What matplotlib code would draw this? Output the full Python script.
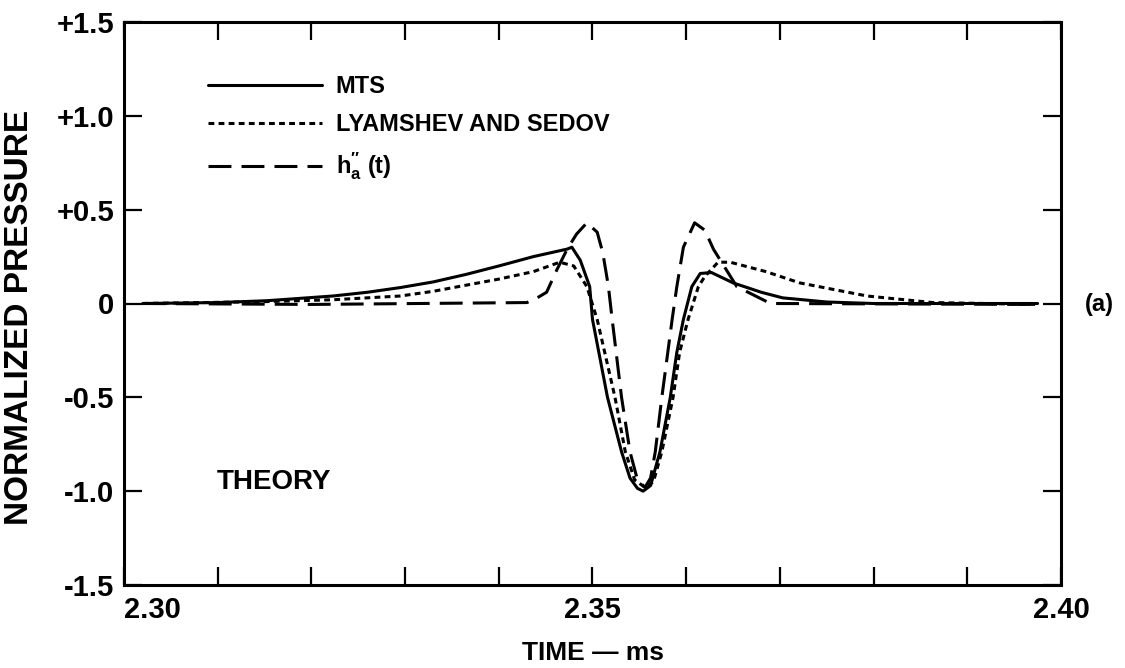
import matplotlib
matplotlib.use("Agg")
import matplotlib.pyplot as plt
from matplotlib.ticker import MultipleLocator

plt.rcParams['font.family'] = ['Liberation Sans', 'DejaVu Sans']
plt.rcParams['font.weight'] = 'bold'
plt.rcParams['mathtext.fontset'] = 'custom'
plt.rcParams['mathtext.rm'] = 'Liberation Sans:bold'
plt.rcParams['mathtext.bf'] = 'Liberation Sans:bold'
plt.rcParams['mathtext.it'] = 'Liberation Sans:bold'

# ---- data ----
mts_t = [2.302, 2.310, 2.3153, 2.3223, 2.3260, 2.3295, 2.333, 2.3365, 2.340, 2.3437, 2.3473, 2.3478,
         2.3487, 2.3497, 2.3500, 2.3516, 2.3531, 2.3540, 2.3548, 2.3554, 2.3562, 2.3572,
         2.3583, 2.3590, 2.3597, 2.3606, 2.3615, 2.3627, 2.3650, 2.3680, 2.3703, 2.3750,
         2.3800, 2.3975]
mts_v = [0.0, 0.005, 0.015, 0.04, 0.06, 0.085, 0.115, 0.155, 0.20, 0.25, 0.29, 0.30,
         0.23, 0.09, -0.085, -0.50, -0.79, -0.93, -0.985, -1.0, -0.97, -0.79,
         -0.50, -0.26, -0.085, 0.09, 0.16, 0.165, 0.11, 0.06, 0.03, 0.008,
         0.0, 0.0]

lyam_t = [2.302, 2.315, 2.3223, 2.3295, 2.333, 2.340, 2.3437, 2.3465, 2.3480, 2.3494,
          2.3505, 2.3524, 2.3535, 2.3545, 2.3556, 2.3565, 2.3574, 2.3586, 2.3593, 2.3602,
          2.3613, 2.3620, 2.3634, 2.3647, 2.3685, 2.3721, 2.3793, 2.3863, 2.3975]
lyam_v = [0.0, 0.01, 0.02, 0.04, 0.065, 0.13, 0.17, 0.22, 0.20, 0.09,
          -0.085, -0.50, -0.79, -0.94, -0.98, -0.95, -0.79, -0.50, -0.26, -0.085,
          0.09, 0.145, 0.22, 0.22, 0.17, 0.11, 0.04, 0.005, -0.005]

ha_t = [2.302, 2.320, 2.343, 2.3441, 2.3451, 2.3462, 2.3473, 2.3483, 2.3494, 2.3505,
        2.3511, 2.3517, 2.3521, 2.3531, 2.3540, 2.3548, 2.3556, 2.3562, 2.3567, 2.3574,
        2.3585, 2.3590, 2.3597, 2.3609, 2.3620, 2.3629, 2.3654, 2.3690, 2.3975]
ha_v = [0.0, -0.005, 0.005, 0.03, 0.06, 0.18, 0.29, 0.37, 0.43, 0.38,
        0.27, 0.09, -0.085, -0.50, -0.79, -0.94, -0.98, -0.93, -0.79, -0.50,
        -0.085, 0.09, 0.30, 0.43, 0.39, 0.29, 0.09, 0.0, -0.005]

series_labels = ["MTS", "LYAMSHEV AND SEDOV", r"h$^{\prime\prime}_{\mathbf{a}}$ (t)"]
xtick_vals = [2.30, 2.35, 2.40]
xtick_labels = ["2.30", "2.35", "2.40"]
ytick_vals = [1.5, 1.0, 0.5, 0.0, -0.5, -1.0, -1.5]
ytick_labels = ["+1.5", "+1.0", "+0.5", "0", "-0.5", "-1.0", "-1.5"]

fig = plt.figure(figsize=(11.25, 6.68), dpi=100)
ax = fig.add_axes([124/1125, 1-585/668, (1061-124)/1125, (585-22)/668])

lw = 2.2
ax.plot(mts_t, mts_v, color='black', lw=lw, solid_capstyle='round', label=series_labels[0])
ax.plot(lyam_t, lyam_v, color='black', lw=lw, linestyle=(0, (1.9, 1.4)), label=series_labels[1])
ax.plot(ha_t, ha_v, color='black', lw=lw, linestyle=(0, (7.5, 3.3)), label=series_labels[2])

ax.set_xlim(2.30, 2.40)
ax.set_ylim(-1.5, 1.5)

ax.xaxis.set_minor_locator(MultipleLocator(0.01))
ax.set_xticks(xtick_vals, xtick_labels)
ax.set_yticks(ytick_vals, ytick_labels)

for s in ax.spines.values():
    s.set_linewidth(2.2)

ax.tick_params(axis='both', which='both', direction='in', top=True, right=True,
               width=1.6, labelsize=21)
ax.tick_params(axis='x', which='both', length=13, pad=8)
ax.tick_params(axis='y', which='major', length=13, pad=7)
for lab in ax.get_xticklabels():
    lab.set_fontweight('bold')
ax.get_xticklabels()[0].set_horizontalalignment('left')
for lab in ax.get_yticklabels():
    lab.set_fontweight('bold')

ax.set_xlabel("TIME \u2014 ms", fontsize=19, fontweight='bold', labelpad=12)
ax.set_ylabel("NORMALIZED PRESSURE", fontsize=24, fontweight='bold', va='center')
ax.yaxis.set_label_coords(-0.112, 0.476)

leg = ax.legend(loc='upper left', bbox_to_anchor=(0.090, 0.905), frameon=False,
                fontsize=17, handlelength=4.8, handletextpad=0.6, labelspacing=0.62,
                borderaxespad=0, borderpad=0)
for t in leg.get_texts():
    t.set_fontweight('bold')

fig.text(217/1125, 1-482/668, "THEORY", fontsize=20, fontweight='bold', va='center', ha='left')
fig.text(1085/1125, 1-305/668, "(a)", fontsize=17, fontweight='bold', va='center', ha='left')

fig.savefig("out.png", dpi=100)
